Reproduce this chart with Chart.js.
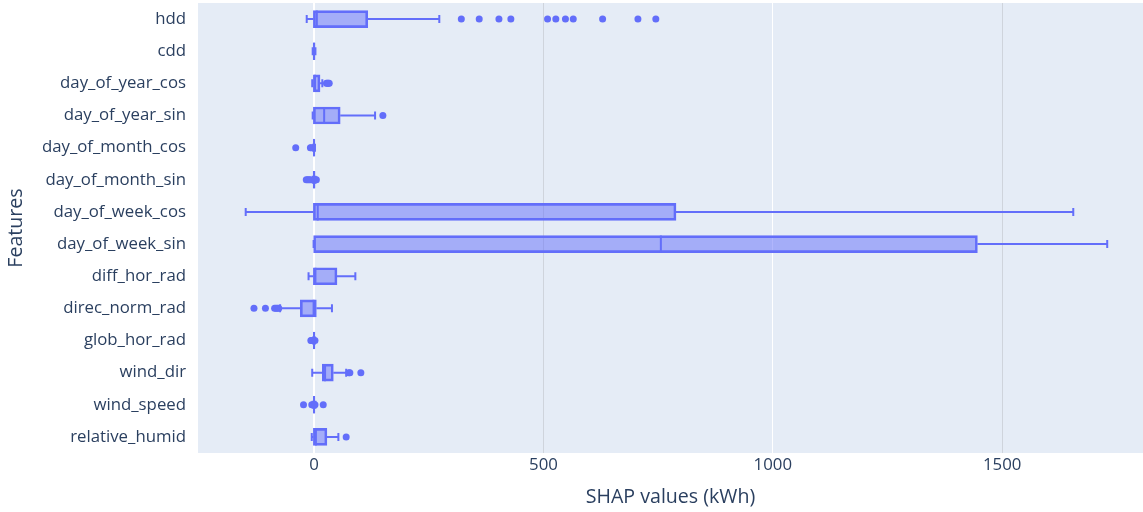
<!DOCTYPE html>
<html>
<head>
<meta charset="utf-8">
<script src="https://cdn.jsdelivr.net/npm/chart.js@4.4.1/dist/chart.umd.min.js"></script>
<style>
  html, body { margin: 0; padding: 0; background: #fff; }
  canvas { display: block; }
</style>
</head>
<body>
<canvas id="shapChart" width="1143" height="512"></canvas>
<script>
// Features, top to bottom
const features = ['hdd', 'cdd', 'day_of_year_cos', 'day_of_year_sin', 'day_of_month_cos',
  'day_of_month_sin', 'day_of_week_cos', 'day_of_week_sin', 'diff_hor_rad', 'direc_norm_rad',
  'glob_hor_rad', 'wind_dir', 'wind_speed', 'relative_humid'];

// Box statistics (SHAP values, kWh)
const lowerFence = [-16, -3, -4, -3, -2, -3, -149, -1, -12, -74, -2, -4, -3, -5];
const q1 = [-1.5, -2, -1.5, -1.5, -1.5, -2, -1.5, -1, -1.5, -30, -1.5, 18, -1.5, -1.5];
const median = [6, 0, 2, 22, 0, 0, 8, 756, 3, -1, 0, 24, 0, 4];
const q3 = [117, 2, 13, 57, 1, 2, 789, 1446, 50, 5, 1.5, 42, 1.5, 28];
const upperFence = [273, 3, 18, 133, 2, 3, 1655, 1729, 90, 39, 2, 70, 3, 53];
const outliers = [
  [321, 360, 403, 429, 509, 527, 548, 565, 629, 706, 745],
  [],
  [27, 29, 31, 33],
  [150],
  [-40, -8, -6],
  [-17, -14, -11, -8, 3, 5],
  [],
  [],
  [],
  [-131, -106, -86, -83, -80, -77],
  [-7, -5, 2],
  [76, 78, 102],
  [-23, -5, -2, 2, 20],
  [70]
];

const xTicks = [0, 500, 1000, 1500];
const xMin = -253, xMax = 1807;

const LINE = '#636efa';
const FILL = 'rgba(99,110,250,0.5)';
const TEXT = '#2a3f5f';
const FONT = '"Open Sans", sans-serif';

const outlierPoints = [];
outliers.forEach((list, i) => list.forEach(v => outlierPoints.push({ x: v, y: features[i] })));

// plot background
const plotBg = {
  id: 'plotBg',
  beforeDraw(chart) {
    const { ctx, chartArea: a } = chart;
    ctx.save();
    ctx.fillStyle = '#e5ecf6';
    ctx.fillRect(a.left, a.top, a.right - a.left, a.bottom - a.top);
    ctx.restore();
  }
};

// whiskers, caps and median lines
const whiskers = {
  id: 'whiskers',
  afterDatasetsDraw(chart) {
    const { ctx, scales: { x, y } } = chart;
    ctx.save();
    ctx.strokeStyle = LINE;
    ctx.lineWidth = 2;
    features.forEach((f, i) => {
      const yc = y.getPixelForValue(i);
      const lo = x.getPixelForValue(lowerFence[i]);
      const b1 = x.getPixelForValue(q1[i]);
      const b3 = x.getPixelForValue(q3[i]);
      const hi = x.getPixelForValue(upperFence[i]);
      const m = x.getPixelForValue(median[i]);
      ctx.beginPath();
      ctx.moveTo(lo, yc); ctx.lineTo(b1, yc);
      ctx.moveTo(b3, yc); ctx.lineTo(hi, yc);
      ctx.moveTo(lo, yc - 4); ctx.lineTo(lo, yc + 4);
      ctx.moveTo(hi, yc - 4); ctx.lineTo(hi, yc + 4);
      ctx.moveTo(m, yc - 8.5); ctx.lineTo(m, yc + 8.5);
      ctx.stroke();
    });
    ctx.restore();
  }
};

new Chart(document.getElementById('shapChart').getContext('2d'), {
  data: {
    labels: features,
    datasets: [{
      type: 'bar',
      data: features.map((f, i) => [q1[i], q3[i]]),
      backgroundColor: FILL,
      borderColor: LINE,
      borderWidth: 2,
      borderSkipped: false,
      barThickness: 17,
      grouped: false
    }, {
      type: 'scatter',
      data: outlierPoints,
      backgroundColor: LINE,
      borderWidth: 0,
      pointRadius: 3.5
    }]
  },
  options: {
    indexAxis: 'y',
    responsive: false,
    animation: false,
    layout: { autoPadding: false, padding: { top: 3, right: 0, left: 0, bottom: 0 } },
    plugins: { legend: { display: false }, tooltip: { enabled: false } },
    scales: {
      x: {
        type: 'linear',
        position: 'bottom',
        min: xMin,
        max: xMax,
        afterBuildTicks: s => { s.ticks = xTicks.map(v => ({ value: v })); },
        afterFit: s => { s.height = 59; s.paddingLeft = 0; s.paddingRight = 0; },
        border: { display: false },
        grid: {
          drawTicks: false,
          color: c => (c.tick && (c.tick.value === 0 || c.tick.value === 1000)) ? '#ffffff' : '#cfd4dc',
          lineWidth: c => (c.tick && c.tick.value === 0) ? 2 : 1
        },
        ticks: {
          padding: 2, color: TEXT, font: { family: FONT, size: 16.8 },
          callback: v => String(v)
        },
        title: {
          display: true,
          text: 'SHAP values (kWh)',
          color: TEXT,
          font: { family: FONT, size: 19.6 },
          padding: { top: 0, bottom: 3 }
        }
      },
      y: {
        type: 'category',
        labels: features,
        offset: true,
        afterFit: s => { s.width = 198; s.paddingTop = 0; s.paddingBottom = 0; },
        border: { display: false },
        grid: { display: false, drawTicks: false },
        ticks: { padding: 12, color: TEXT, font: { family: FONT, size: 16.8 } },
        title: {
          display: true,
          text: 'Features',
          color: TEXT,
          font: { family: FONT, size: 19.6 },
          padding: { top: 5, bottom: 0 }
        }
      }
    }
  },
  plugins: [plotBg, whiskers]
});
</script>
</body>
</html>
